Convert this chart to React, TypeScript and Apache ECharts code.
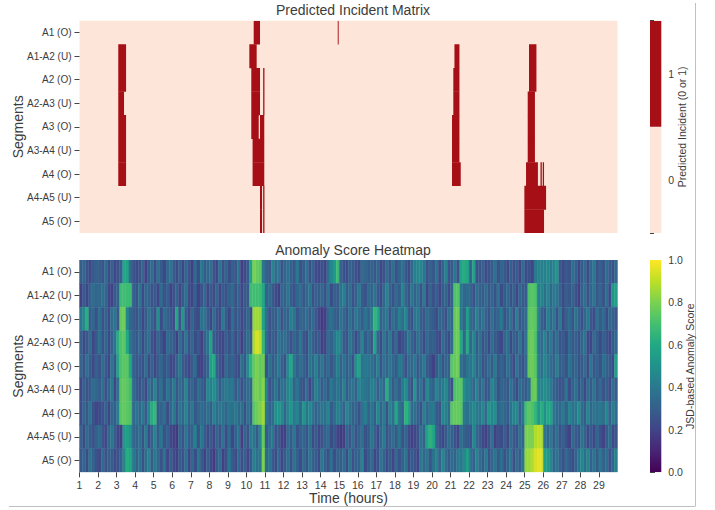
import React, { useEffect, useRef } from "react";
import * as echarts from "echarts";

const segments = ["A1 (O)", "A1-A2 (U)", "A2 (O)", "A2-A3 (U)", "A3 (O)", "A3-A4 (U)", "A4 (O)", "A4-A5 (U)", "A5 (O)"];
const hourTicks = [1,2,3,4,5,6,7,8,9,10,11,12,13,14,15,16,17,18,19,20,21,22,23,24,25,26,27,28,29];

// Predicted incidents: [start hour, end hour] runs for each segment
const incA1 = [[10.39,10.73],[14.92,14.97]];
const incA1A2 = [[3.09,3.51],[10.155,10.55],[21.21,21.48],[25.23,25.63]];
const incA2 = [[3.09,3.51],[10.26,10.73],[10.9,10.97],[21.15,21.48],[25.23,25.63]];
const incA2A3 = [[3.09,3.4],[10.26,10.73],[10.9,10.97],[21.15,21.48],[25.16,25.55]];
const incA3 = [[3.09,3.51],[10.26,10.66],[10.73,10.96],[21.08,21.48],[25.16,25.55]];
const incA3A4 = [[3.09,3.51],[10.33,10.96],[21.08,21.48],[25.16,25.55]];
const incA4 = [[3.09,3.51],[10.33,10.96],[21.08,21.55],[25.07,25.71],[25.85,25.92],[25.97,26.04]];
const incA4A5 = [[10.73,10.84],[10.9,10.97],[24.98,26.15]];
const incA5 = [[10.73,10.84],[10.9,10.97],[24.98,26.04]];
const incidents = [incA1, incA1A2, incA2, incA2A3, incA3, incA3A4, incA4, incA4A5, incA5];

// Anomaly scores x100, six readings per hour, hours 1..29
const scoreA1 = [
29,33,25,22,28,31, 30,25,35,23,30,21, 25,31,60,58,35,27, 23,25,33,19,29,35, 23,37,29,21,33,39,
29,23,31,21,33,25, 19,35,23,41,29,33, 37,25,21,39,25,33, 23,31,27,39,19,23, 29,58,80,76,74,39,
31,27,45,35,41,25, 33,37,31,27,41,25, 29,39,25,33,23,21, 25,21,35,47,52,68, 33,25,23,31,29,25,
23,35,33,29,31,27, 33,21,25,35,27,37, 25,31,39,29,23,33, 43,45,45,39,25,31, 27,39,23,31,43,25,
29,39,25,58,62,60, 31,58,25,27,31,23, 25,29,37,25,33,29, 23,31,25,29,21,35, 23,25,21,41,45,43,
43,47,41,45,52,27, 23,29,25,37,31,21, 29,35,23,33,41,25, 31,25,37,29,25,33];
const scoreA1A2 = [
19,29,21,31,35,33, 33,37,33,21,19,29, 31,68,69,68,68,31, 25,39,23,33,31,25, 29,21,35,25,31,19,
25,33,21,29,37,23, 21,31,19,25,35,21, 29,23,33,21,29,25, 31,35,25,33,21,29, 27,68,69,69,68,60,
31,35,29,23,19,33, 31,39,29,25,33,37, 27,33,39,25,31,29, 33,25,39,23,31,29, 37,43,29,35,25,31,
41,29,25,35,31,39, 29,23,33,45,31,25, 35,29,47,33,25,39, 31,37,25,41,21,33, 25,31,21,29,33,23,
31,72,73,41,33,35, 33,25,37,31,29,35, 27,33,25,39,23,29, 35,25,31,21,33,29, 29,72,74,72,43,45,
37,45,33,41,39,31, 23,31,27,33,25,19, 31,37,25,33,39,27, 33,25,37,23,52,56];
const scoreA2 = [
39,47,62,29,33,25, 37,25,31,23,35,39, 27,76,78,45,33,29, 25,33,21,29,37,31, 25,49,23,37,31,27,
23,60,25,52,29,21, 33,25,23,37,39,29, 21,35,25,23,41,29, 21,37,25,31,23,27, 33,23,84,86,84,58,
37,25,31,29,39,25, 33,31,43,39,27,33, 31,37,29,35,27,21, 17,19,33,37,31,29, 39,33,25,37,29,41,
35,29,39,31,41,66, 60,31,35,41,25,37, 31,43,35,47,29,25, 39,41,29,27,35,31, 29,23,33,31,25,37,
33,76,78,41,31,56, 35,31,45,33,39,31, 25,37,29,33,41,25, 31,39,25,43,27,31, 35,74,76,74,45,31,
27,43,33,39,25,41, 23,31,35,25,39,31, 25,33,41,27,23,37, 29,35,23,33,31,27];
const scoreA2A3 = [
31,23,27,35,21,29, 37,25,33,23,31,39, 62,72,74,60,39,31, 27,35,23,31,37,25, 21,33,27,19,35,31,
29,19,35,25,39,25, 33,23,29,19,31,37, 58,29,25,23,21,31, 25,35,23,31,19,29, 35,29,88,94,90,66,
35,25,31,27,39,33, 37,31,25,33,29,41, 27,23,37,31,25,29, 19,21,35,31,39,47, 43,29,25,39,33,23,
31,45,29,35,27,60, 33,23,39,29,41,25, 35,21,25,29,41,31, 25,37,31,23,35,29, 31,25,21,35,29,23,
35,76,78,60,33,62, 33,45,29,37,25,31, 23,35,29,25,21,33, 37,23,31,27,39,25, 39,76,78,72,39,35,
45,33,41,29,37,25, 29,23,35,27,31,25, 33,39,23,21,35,29, 23,31,25,21,29,33];
const scoreA3 = [
33,25,37,29,23,31, 25,35,29,21,39,27, 58,72,74,74,60,31, 27,29,25,35,23,31, 21,29,33,25,31,21,
23,31,39,29,25,21, 29,35,21,19,27,31, 56,60,31,25,21,35, 29,33,25,23,37,27, 47,64,76,80,76,78,
25,37,29,33,41,31, 25,47,60,39,31,37, 31,25,39,33,43,31, 39,29,35,27,33,43, 31,37,29,35,25,49,
58,37,41,39,37,31, 43,25,37,31,39,33, 29,41,37,25,35,33, 39,29,33,41,29,25, 19,29,37,25,33,31,
74,76,78,37,31,39, 39,45,31,37,25,29, 35,29,41,27,33,25, 37,31,23,39,29,25, 35,76,78,74,43,37,
47,39,35,31,43,29, 31,25,39,29,33,25, 29,35,23,39,27,31, 25,37,31,29,23,56];
const scoreA3A4 = [
21,31,25,29,35,33, 29,37,25,31,41,21, 37,74,76,74,70,35, 29,25,31,23,37,31, 45,29,37,25,39,29,
41,27,35,31,45,29, 33,25,37,31,25,45, 43,49,41,29,37,41, 39,41,29,35,25,31, 35,33,78,80,76,82,
45,25,31,39,29,37, 35,45,49,31,39,29, 25,37,21,31,43,37, 29,35,27,41,33,39, 31,43,29,35,39,31,
45,41,39,35,43,41, 31,39,33,62,41,29, 37,29,41,49,33,25, 52,31,39,25,47,35, 31,45,37,41,47,33,
25,72,74,74,49,43, 41,33,45,31,39,27, 29,45,39,25,33,31, 27,39,31,23,35,31, 29,35,76,78,47,45,
49,45,41,31,29,25, 27,39,23,31,37,25, 33,21,35,29,39,27, 35,25,31,23,37,29];
const scoreA4 = [
23,33,27,39,25,21, 23,25,31,21,33,29, 43,74,76,74,72,35, 39,33,41,29,45,62, 66,29,31,37,23,33,
41,25,39,33,45,31, 41,27,33,35,31,37, 29,43,35,39,37,33, 39,37,41,33,37,25, 37,31,74,78,80,86,
41,31,35,49,52,47, 33,45,52,41,45,33, 52,39,47,39,31,35, 39,37,45,29,35,43, 39,31,45,37,31,33,
25,37,43,31,39,29, 47,31,41,25,45,37, 60,39,31,64,58,35, 37,31,25,43,33,39, 41,29,25,47,43,35,
74,76,76,74,41,37, 43,47,41,39,45,35, 52,45,49,31,37,33, 29,39,45,47,31,39, 70,74,72,66,52,62,
49,60,58,39,35,33, 41,31,45,37,39,49, 35,29,45,33,39,37, 41,35,47,31,43,35];
const scoreA4A5 = [
31,23,35,29,25,31, 35,27,21,33,39,29, 21,19,54,56,52,33, 31,37,25,41,23,31, 45,29,39,25,31,21,
19,17,33,25,39,29, 31,43,25,41,29,23, 29,21,33,25,37,23, 35,21,31,39,19,33, 25,41,39,29,45,76,
29,35,41,25,29,19, 19,35,29,41,25,31, 33,25,37,23,29,21, 25,31,35,23,29,21, 17,19,33,27,35,25,
31,37,25,29,39,31, 23,33,41,25,31,35, 29,39,25,33,23,19, 21,25,37,31,58,64, 60,33,25,21,29,35,
31,25,21,37,31,29, 25,47,33,29,21,19, 25,37,19,25,23,31, 21,35,29,25,37,31, 80,80,80,88,90,88,
39,33,41,29,37,25, 31,25,19,35,29,25, 39,31,23,29,21,33, 25,19,29,35,23,25];
const scoreA5 = [
27,33,23,39,31,25, 21,35,25,31,29,23, 25,31,45,62,60,41, 31,39,25,35,45,29, 41,33,25,39,21,31,
23,19,29,25,37,21, 33,23,41,29,19,31, 23,17,29,35,19,25, 39,29,23,35,25,31, 21,29,43,37,39,80,
33,39,29,23,35,21, 29,37,25,39,31,23, 35,25,39,31,29,23, 41,31,25,37,23,31, 29,35,23,39,25,31,
31,45,23,29,35,21, 25,39,31,23,29,21, 35,25,31,39,23,29, 25,21,41,33,39,27, 37,45,31,47,35,29,
35,31,41,39,47,56, 39,31,45,35,29,41, 25,33,39,29,37,25, 31,41,25,35,29,39, 84,85,88,94,96,95,
56,54,45,33,39,31, 25,35,29,23,31,39, 47,35,45,31,39,29, 41,31,37,25,33,43];
const scores = [scoreA1, scoreA1A2, scoreA2, scoreA2A3, scoreA3, scoreA3A4, scoreA4, scoreA4A5, scoreA5];

const scoreTicks = [0, 0.2, 0.4, 0.6, 0.8, 1];
const viridis = ["#440154","#482475","#414487","#355f8d","#2a788e","#21918c","#22a884","#44bf70","#7ad151","#bddf26","#fde725"];
const REDS_LOW = "#fee5d9";
const REDS_HIGH = "#a50f15";
const INK = "#3c3c3c";
const FONT = '"Liberation Sans", Arial, sans-serif';

function toRgb(h: string) {
  return [1, 3, 5].map((i) => parseInt(h.slice(i, i + 2), 16));
}
function viridisColor(v: number) {
  const t = Math.max(0, Math.min(1, v)) * 10;
  const i = Math.min(9, Math.floor(t));
  const f = t - i;
  const a = toRgb(viridis[i]);
  const b = toRgb(viridis[i + 1]);
  const c = a.map((x, k) => Math.round(x + (b[k] - x) * f));
  return `rgb(${c[0]},${c[1]},${c[2]})`;
}

export default function App() {
  const ref = useRef<HTMLDivElement>(null);
  useEffect(() => {
    document.body.style.margin = "0";
    const chart = echarts.init(ref.current!, null, { renderer: "svg" });

    const incidentData: number[][] = [];
    incidents.forEach((runs, row) => runs.forEach((r) => incidentData.push([r[0], row, r[1]])));
    const scoreData: number[][] = [];
    scores.forEach((vals, row) => vals.forEach((v, i) => scoreData.push([1 + i / 6, row, v / 100])));

    const labelStyle = { color: INK, fontSize: 10, fontFamily: FONT };
    const nameStyle = { color: INK, fontSize: 14, fontFamily: FONT };
    const tick = { show: true, length: 5, lineStyle: { color: "#444", width: 1 } };

    const segAxis = (gridIndex: number) => ({
      type: "category", gridIndex, data: segments, inverse: true,
      name: "Segments", nameLocation: "middle", nameGap: 55, nameRotate: 90, nameMoveOverlap: false, nameTextStyle: nameStyle,
      axisLine: { show: false }, axisTick: { ...tick, alignWithLabel: true },
      axisLabel: { ...labelStyle, margin: 8, interval: 0 }, splitLine: { show: false },
    });

    const option: any = {
      animation: false,
      backgroundColor: "#ffffff",
      title: [
        { text: "Predicted Incident Matrix", left: 348, top: -2, textAlign: "center", textStyle: { ...nameStyle, fontWeight: "normal" } },
        { text: "Anomaly Score Heatmap", left: 348, top: 238, textAlign: "center", textStyle: { ...nameStyle, fontWeight: "normal" } },
      ],
      grid: [
        { left: 79.5, top: 20.7, width: 538, height: 212.3, show: true, backgroundColor: REDS_LOW, borderWidth: 0, outerBoundsMode: "none" },
        { left: 79.5, top: 260, width: 538, height: 212.3, outerBoundsMode: "none" },
        { left: 650, top: 20.7, width: 11.3, height: 212.3, outerBoundsMode: "none" },
        { left: 650, top: 260, width: 11.3, height: 212.3, outerBoundsMode: "none" },
      ],
      xAxis: [
        { type: "value", gridIndex: 0, min: 1, max: 30, show: false, splitLine: { show: false } },
        {
          type: "value", gridIndex: 1, min: 1, max: 30, interval: 1,
          name: "Time (hours)", nameLocation: "middle", nameGap: 19, nameMoveOverlap: false, nameTextStyle: nameStyle,
          axisLine: { show: false },
          axisTick: { ...tick, customValues: hourTicks },
          axisLabel: { ...labelStyle, fontSize: 10.5, margin: 7, customValues: hourTicks, formatter: (v: number) => String(v) },
          splitLine: { show: false },
        },
        { type: "value", gridIndex: 2, min: 0, max: 1, show: false, splitLine: { show: false } },
        { type: "value", gridIndex: 3, min: 0, max: 1, show: false, splitLine: { show: false } },
      ],
      yAxis: [
        segAxis(0),
        segAxis(1),
        {
          type: "value", gridIndex: 2, position: "right", min: -0.5, max: 1.5,
          name: "Predicted Incident (0 or 1)", nameLocation: "middle", nameGap: 15, nameRotate: 90, nameMoveOverlap: false,
          nameTextStyle: { ...labelStyle, fontSize: 10.5 },
          axisLine: { show: false },
          axisTick: { ...tick, length: 4, customValues: [-0.5, 0, 0.5, 1, 1.5] },
          axisLabel: { ...labelStyle, fontSize: 10.5, margin: 7, customValues: [0, 1], formatter: (v: number) => String(v) },
          splitLine: { show: false },
        },
        {
          type: "value", gridIndex: 3, position: "right", min: 0, max: 1, interval: 0.2,
          name: "JSD-based Anomaly Score", nameLocation: "middle", nameGap: 23, nameRotate: 90, nameMoveOverlap: false,
          nameTextStyle: { ...labelStyle, fontSize: 10.5 },
          axisLine: { show: false },
          axisTick: { ...tick, customValues: scoreTicks },
          axisLabel: { ...labelStyle, fontSize: 10.5, margin: 7, customValues: scoreTicks, formatter: (v: number) => v.toFixed(1) },
          splitLine: { show: false },
        },
      ],
      series: [
        {
          type: "custom", xAxisIndex: 0, yAxisIndex: 0, clip: true, data: incidentData, silent: true,
          renderItem: (_: any, api: any) => {
            const a = api.coord([api.value(0), api.value(1)]);
            const b = api.coord([api.value(2), api.value(1)]);
            const h = api.size([0, 1])[1];
            return { type: "rect", shape: { x: a[0], y: a[1] - h / 2, width: b[0] - a[0], height: h + 0.3 }, style: { fill: REDS_HIGH } };
          },
        },
        {
          type: "custom", xAxisIndex: 1, yAxisIndex: 1, clip: true, data: scoreData, silent: true,
          renderItem: (_: any, api: any) => {
            const a = api.coord([api.value(0), api.value(1)]);
            const s = api.size([1 / 6, 1]);
            const col = viridisColor(api.value(2));
            return { type: "rect", shape: { x: a[0], y: a[1] - s[1] / 2, width: s[0], height: s[1] }, style: { fill: col, stroke: col, lineWidth: 0.4 } };
          },
        },
        {
          type: "custom", xAxisIndex: 2, yAxisIndex: 2, clip: true, data: [[0, -0.5, 0.5, 0], [0, 0.5, 1.5, 1]], silent: true,
          renderItem: (_: any, api: any) => {
            const a = api.coord([0, api.value(2)]);
            const b = api.coord([1, api.value(1)]);
            return { type: "rect", shape: { x: a[0], y: a[1], width: b[0] - a[0], height: b[1] - a[1] }, style: { fill: api.value(3) ? REDS_HIGH : REDS_LOW } };
          },
        },
        {
          type: "custom", xAxisIndex: 3, yAxisIndex: 3, clip: true, data: [[0, 0]], silent: true,
          renderItem: (_: any, api: any) => {
            const a = api.coord([0, 1]);
            const b = api.coord([1, 0]);
            return {
              type: "rect",
              shape: { x: a[0], y: a[1], width: b[0] - a[0], height: b[1] - a[1] },
              style: {
                fill: new echarts.graphic.LinearGradient(0, 1, 0, 0, viridis.map((c, i) => ({ offset: i / 10, color: c }))),
              },
            };
          },
        },
      ],
      graphic: [
        { type: "line", shape: { x1: 695.5, y1: 3, x2: 695.5, y2: 506 }, style: { stroke: "#c0c0c0", lineWidth: 1 }, silent: true },
        { type: "line", shape: { x1: 9, y1: 506.5, x2: 695.5, y2: 506.5 }, style: { stroke: "#c0c0c0", lineWidth: 1 }, silent: true },
      ],
    };
    chart.setOption(option);
    return () => chart.dispose();
  }, []);
  return <div ref={ref} style={{ position: "absolute", left: 0, top: 0, width: 715, height: 510 }} />;
}
